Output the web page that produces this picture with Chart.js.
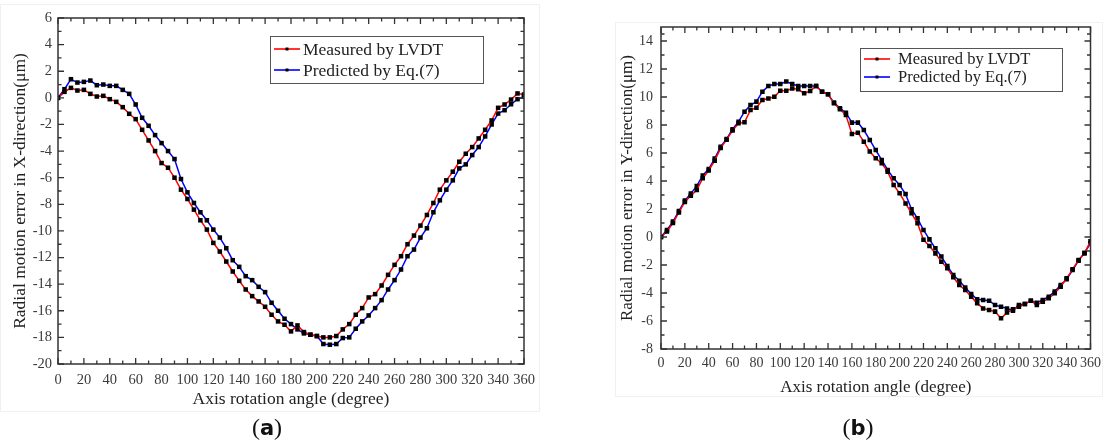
<!DOCTYPE html>
<html>
<head>
<meta charset="utf-8">
<script src="https://cdn.jsdelivr.net/npm/chart.js@4.4.1/dist/chart.umd.min.js"></script>
<style>
  html, body { margin: 0; padding: 0; background: #fff; }
  body { width: 1107px; height: 446px; position: relative; overflow: hidden; font-family: "Liberation Serif", serif; }
  .wrap { position: absolute; }
  #wa { left: 0; top: 0; width: 545px; height: 420px; }
  #wb { left: 600px; top: 0; width: 507px; height: 420px; }
  .frame { position: absolute; border: 1px solid #f1f1f1; }
  .cap { position: absolute; top: 414px; font-family: "Liberation Serif", serif; font-size: 24px; color: #111; transform: translateX(-50%); }
  .cap b { font-family: "DejaVu Sans", sans-serif; font-weight: bold; font-size: 21px; }
</style>
</head>
<body>
<div class="frame" style="left:0px; top:4px; width:538px; height:406px;"></div>
<div class="frame" style="left:615px; top:22px; width:486px; height:373px;"></div>
<div class="wrap" id="wa"><canvas id="ca"></canvas></div>
<div class="wrap" id="wb"><canvas id="cb"></canvas></div>
<div class="cap" style="left:267px;">(<b>a</b>)</div>
<div class="cap" style="left:858px;">(<b>b</b>)</div>
<script>
// ---------------- data ----------------
const angles = [0,5,10,15,20,25,30,35,40,45,50,55,60,65,70,75,80,85,90,95,100,105,110,115,120,125,130,135,140,145,150,155,160,165,170,175,180,185,190,195,200,205,210,215,220,225,230,235,240,245,250,255,260,265,270,275,280,285,290,295,300,305,310,315,320,325,330,335,340,345,350,355,360];

// (a) X-direction
const xMeasured = [0,0.45,0.75,0.55,0.6,0.3,0.1,0.15,-0.1,-0.3,-0.7,-1.2,-1.6,-2.4,-3.2,-4.0,-4.9,-5.25,-6.0,-6.9,-7.6,-8.4,-9.2,-9.9,-10.9,-11.55,-12.3,-13.05,-13.75,-14.4,-14.9,-15.3,-15.7,-16.3,-16.8,-17.05,-17.55,-17.1,-17.6,-17.8,-17.9,-18.0,-18.0,-17.9,-17.4,-17.0,-16.3,-15.8,-15.0,-14.75,-14.1,-13.3,-12.55,-11.9,-11.0,-10.35,-9.6,-8.8,-7.9,-6.9,-6.2,-5.55,-4.8,-4.2,-3.7,-3.05,-2.4,-1.7,-0.75,-0.5,-0.13,0.33,0.25];
const xPredicted = [0,0.65,1.4,1.15,1.2,1.3,0.95,1.0,0.9,0.9,0.6,0.3,-0.5,-1.5,-2.1,-2.8,-3.4,-4.0,-4.6,-6.1,-7.1,-7.9,-8.6,-9.2,-9.9,-10.5,-11.3,-12.2,-12.7,-13.4,-13.7,-14.2,-14.6,-15.4,-16.0,-16.6,-17.0,-17.4,-17.7,-17.8,-17.9,-18.5,-18.55,-18.5,-18.05,-18.0,-17.35,-16.8,-16.35,-15.8,-15.2,-14.4,-13.7,-12.9,-11.9,-11.4,-10.5,-9.8,-8.6,-7.7,-6.9,-6.2,-5.3,-5.0,-4.3,-3.7,-2.9,-2.0,-1.18,-0.93,-0.48,-0.1,0.08];

// (b) Y-direction
const yMeasured = [0,0.4,1.0,1.75,2.5,2.95,3.35,4.2,4.75,5.45,6.35,6.95,7.6,8.12,8.19,9.07,9.24,9.79,9.9,10.02,10.45,10.45,10.6,10.55,10.26,10.43,10.79,10.38,10.19,9.55,9.12,8.71,7.36,7.45,6.81,6.1,5.62,5.26,4.67,3.71,3.12,2.4,1.69,0.98,-0.2,-0.64,-1.17,-1.76,-2.24,-2.88,-3.43,-3.79,-4.26,-4.74,-5.1,-5.21,-5.33,-5.81,-5.4,-5.17,-4.98,-4.79,-4.55,-4.86,-4.62,-4.38,-4.02,-3.55,-2.95,-2.31,-1.64,-1.17,-0.3];
const yPredicted = [0,0.5,1.1,1.85,2.6,3.1,3.65,4.4,4.85,5.6,6.45,7.0,7.7,8.24,8.95,9.43,9.67,10.38,10.79,10.93,10.93,11.1,10.93,10.79,10.79,10.79,10.79,10.38,10.19,9.6,9.19,8.88,8.17,8.17,7.64,6.93,6.21,5.5,4.79,4.19,3.71,3.07,1.98,1.33,0.5,-0.17,-0.81,-1.4,-2.07,-2.71,-3.12,-3.6,-4.07,-4.45,-4.5,-4.55,-4.86,-4.98,-5.1,-5.26,-4.86,-4.79,-4.55,-4.69,-4.5,-4.26,-3.9,-3.43,-3.02,-2.36,-1.69,-1.12,-0.45];

// tick labels
const angleTicks = [0,20,40,60,80,100,120,140,160,180,200,220,240,260,280,300,320,340,360];
const xErrTicks = [-20,-18,-16,-14,-12,-10,-8,-6,-4,-2,0,2,4,6];
const yErrTicks = [-8,-6,-4,-2,0,2,4,6,8,10,12,14];

const seriesNames = ["Measured by LVDT", "Predicted by Eq.(7)"];
const xTitle = "Axis rotation angle (degree)";
const yTitleA = "Radial motion error in X-direction(\u03bcm)";
const yTitleB = "Radial motion error in Y-direction(\u03bcm)";

// ---------------- helpers ----------------
const pts = (vals) => angles.map((a, i) => ({ x: a, y: vals[i] }));

const frameTicks = {
  id: 'frameTicks',
  afterDatasetsDraw(chart) {
    const ctx = chart.ctx, ca = chart.chartArea;
    const sx = chart.scales.x, sy = chart.scales.y;
    ctx.save();
    ctx.strokeStyle = '#333';
    ctx.lineWidth = 1.5;
    ctx.strokeRect(ca.left, ca.top, ca.right - ca.left, ca.bottom - ca.top);
    ctx.lineWidth = 1.3;
    const major = 6, minor = 3.5;
    const xs = sx.ticks.map(t => t.value);
    const ys = sy.ticks.map(t => t.value);
    const drawX = (v, len) => {
      const p = sx.getPixelForValue(v);
      ctx.beginPath();
      ctx.moveTo(p, ca.bottom); ctx.lineTo(p, ca.bottom - len);
      ctx.moveTo(p, ca.top); ctx.lineTo(p, ca.top + len);
      ctx.stroke();
    };
    const drawY = (v, len) => {
      const p = sy.getPixelForValue(v);
      ctx.beginPath();
      ctx.moveTo(ca.left, p); ctx.lineTo(ca.left + len, p);
      ctx.moveTo(ca.right, p); ctx.lineTo(ca.right - len, p);
      ctx.stroke();
    };
    xs.forEach((v, i) => { drawX(v, major); if (i < xs.length - 1) drawX((v + xs[i + 1]) / 2, minor); });
    ys.forEach((v, i) => { drawY(v, major); if (i < ys.length - 1) drawY((v + ys[i + 1]) / 2, minor); });
    if (sy.max > ys[ys.length - 1]) drawY((ys[ys.length - 1] + sy.max) / 2, minor);
    ctx.restore();
  }
};

const boxLegend = {
  id: 'boxLegend',
  afterDraw(chart, args, opts) {
    const ctx = chart.ctx;
    ctx.save();
    ctx.strokeStyle = '#555';
    ctx.lineWidth = 1;
    ctx.fillStyle = '#fff';
    ctx.fillRect(opts.x, opts.y, opts.w, opts.h);
    ctx.strokeRect(opts.x + 0.5, opts.y + 0.5, opts.w, opts.h);
    ctx.font = opts.fontSize + 'px "Liberation Serif", serif';
    ctx.textBaseline = 'middle';
    chart.data.datasets.forEach((ds, i) => {
      const cy = opts.y + opts.rowY[i];
      ctx.strokeStyle = ds.borderColor;
      ctx.lineWidth = 1.6;
      ctx.beginPath();
      ctx.moveTo(opts.x + opts.lineX0, cy); ctx.lineTo(opts.x + opts.lineX1, cy);
      ctx.stroke();
      ctx.fillStyle = '#000';
      ctx.fillRect(opts.x + (opts.lineX0 + opts.lineX1) / 2 - 1.5, cy - 1.5, 3, 3);
      ctx.fillStyle = '#222';
      ctx.fillText(ds.label, opts.x + opts.textX, cy + 1);
    });
    ctx.restore();
  }
};

function makeChart(id, measured, predicted, yTicks, yMin, yMax, yTitle, geom) {
  const tickFont = { family: '"Liberation Serif", serif', size: geom.tickSize };
  const titleFont = { family: '"Liberation Serif", serif', size: geom.titleSize };
  const dsStyle = (color) => ({
    borderColor: color, backgroundColor: '#000', borderWidth: 1.5,
    pointStyle: 'rect', pointRadius: 3.2, pointBackgroundColor: '#000', pointBorderColor: '#000', pointBorderWidth: 0,
    tension: 0, fill: false
  });
  return new Chart(document.getElementById(id), {
    type: 'line',
    data: {
      datasets: [
        Object.assign({ label: seriesNames[0], data: pts(measured) }, dsStyle('#ff0000')),
        Object.assign({ label: seriesNames[1], data: pts(predicted) }, dsStyle('#0000ff'))
      ]
    },
    options: {
      responsive: true, maintainAspectRatio: false, animation: false,
      layout: { padding: { left: geom.padLeft, right: geom.padRight, top: geom.padTop, bottom: geom.padBottom } },
      plugins: {
        legend: { display: false }, tooltip: { enabled: false },
        boxLegend: geom.legend
      },
      scales: {
        x: {
          type: 'linear', min: 0, max: 360,
          afterBuildTicks: (s) => { s.ticks = angleTicks.map(v => ({ value: v })); },
          afterFit: (s) => { s.height = geom.xAxisH; },
          grid: { display: false, drawTicks: false }, border: { display: false },
          ticks: { font: tickFont, color: '#3a3a3a', padding: geom.xTickPad, maxRotation: 0, autoSkip: false },
          title: { display: true, text: xTitle, font: titleFont, color: '#222', padding: { top: 0, bottom: 0 } }
        },
        y: {
          type: 'linear', min: yMin, max: yMax,
          afterBuildTicks: (s) => { s.ticks = yTicks.map(v => ({ value: v })); },
          afterFit: (s) => { s.width = geom.yAxisW; },
          grid: { display: false, drawTicks: false }, border: { display: false },
          ticks: { font: tickFont, color: '#3a3a3a', padding: geom.yTickPad, autoSkip: false },
          title: { display: true, text: yTitle, font: titleFont, color: '#222', padding: { top: 0, bottom: 0 } }
        }
      }
    },
    plugins: [frameTicks, boxLegend]
  });
}

makeChart('ca', xMeasured, xPredicted, xErrTicks, -20, 6, yTitleA, {
  tickSize: 14.5, titleSize: 17.5,
  padLeft: 10, padRight: 21, padTop: 18, padBottom: 10, xAxisH: 46, yAxisW: 48, xTickPad: 7, yTickPad: 6,
  legend: { x: 270, y: 36, w: 213, h: 47, rowY: [13, 34], lineX0: 4, lineX1: 30, textX: 33, fontSize: 17.5 }
});

makeChart('cb', yMeasured, yPredicted, yErrTicks, -8, 15, yTitleB, {
  tickSize: 14, titleSize: 17,
  padLeft: 17, padRight: 14, padTop: 27, padBottom: 22, xAxisH: 49, yAxisW: 44, xTickPad: 6, yTickPad: 8,
  legend: { x: 260, y: 48, w: 202, h: 43, rowY: [11, 29], lineX0: 4, lineX1: 30, textX: 38, fontSize: 16.5 }
});
</script>
</body>
</html>
